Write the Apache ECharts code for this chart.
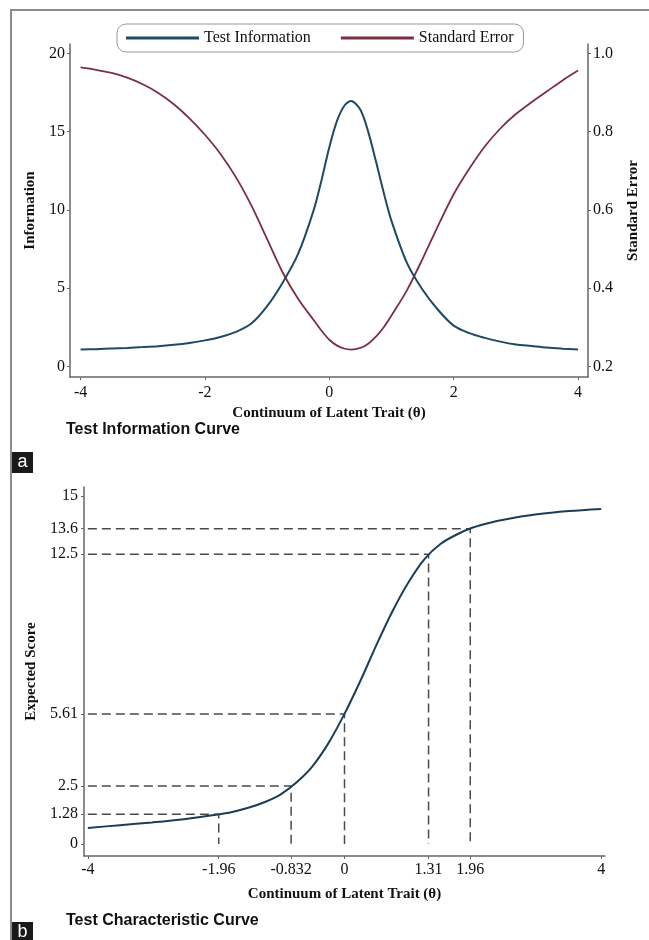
<!DOCTYPE html>
<html>
<head>
<meta charset="utf-8">
<script src="https://cdn.jsdelivr.net/npm/echarts@6/dist/echarts.min.js"></script>
<style>
  html, body { margin: 0; padding: 0; background: #fff; overflow: hidden; }
  #chart { width: 649px; height: 940px; position: absolute; left: 0; top: 0; }
  #frame { position: absolute; left: 10px; top: 9px; width: 637px; height: 929px;
           border-left: 2px solid #8c8c8c; border-top: 2px solid #8c8c8c; pointer-events: none; }
  .tag { position: absolute; left: 12px; width: 21px; height: 21px; background: #1a1a1a; color: #fff;
         font-family: "Liberation Sans", Arial, sans-serif; font-size: 18px; line-height: 19px; text-align: center; }
</style>
</head>
<body>
<div id="chart"></div>
<div id="frame"></div>
<div class="tag" style="top:452px;">a</div>
<div class="tag" style="top:922px;height:18px;">b</div>
<script>
// ---------- Panel a: Test Information Curve ----------
const theta = [-4, -3.75, -3.5, -3.25, -3, -2.75, -2.5, -2.25, -2, -1.75, -1.5, -1.25, -1, -0.75, -0.5, -0.25, -0.125, 0, 0.125, 0.25, 0.35, 0.5, 0.625, 0.75, 0.875, 1, 1.25, 1.5, 1.75, 2, 2.25, 2.5, 2.75, 3, 3.25, 3.5, 3.75, 4];
const information = [1.07, 1.1, 1.14, 1.18, 1.23, 1.29, 1.38, 1.5, 1.66, 1.88, 2.2, 2.75, 3.85, 5.35, 7.2, 10.0, 11.9, 14.0, 15.7, 16.7, 16.95, 16.4, 15.0, 13.1, 11.1, 9.3, 6.6, 4.9, 3.6, 2.6, 2.12, 1.82, 1.58, 1.4, 1.3, 1.2, 1.13, 1.07];
const standardError = [0.964, 0.958, 0.95, 0.938, 0.921, 0.899, 0.87, 0.834, 0.792, 0.743, 0.683, 0.61, 0.525, 0.44, 0.372, 0.318, 0.291, 0.268, 0.253, 0.245, 0.243, 0.247, 0.258, 0.276, 0.3, 0.33, 0.395, 0.475, 0.56, 0.64, 0.705, 0.762, 0.808, 0.845, 0.875, 0.903, 0.931, 0.956];
const topXTicks = [-4, -2, 0, 2, 4];
const infoTicks = [0, 5, 10, 15, 20];
const seTicks = [0.2, 0.4, 0.6, 0.8, 1.0];

// ---------- Panel b: Test Characteristic Curve ----------
const tccTheta = [-4, -3.5, -3, -2.5, -2, -1.75, -1.5, -1.25, -1, -0.75, -0.5, -0.25, 0, 0.25, 0.5, 0.75, 1, 1.25, 1.5, 1.75, 2, 2.25, 2.5, 3, 3.5, 4];
const tccScore = [0.69, 0.81, 0.93, 1.07, 1.26, 1.38, 1.56, 1.8, 2.13, 2.65, 3.35, 4.35, 5.61, 7.05, 8.6, 10.05, 11.3, 12.3, 12.95, 13.35, 13.65, 13.85, 14.0, 14.22, 14.36, 14.45];
const refTheta = [-1.96, -0.832, 0, 1.31, 1.96];
const refScore = [1.28, 2.5, 5.61, 12.5, 13.6];
const bottomXTicks = [-4, -1.96, -0.832, 0, 1.31, 1.96, 4];
const scoreTicks = [0, 1.28, 2.5, 5.61, 12.5, 13.6, 15];

const SERIF = '"Liberation Serif", "Times New Roman", serif';
const SANS = '"Liberation Sans", Arial, sans-serif';
const axisColor = '#666';
const labelStyle = { fontFamily: SERIF, fontSize: 16, color: '#111' };
const nameStyle = { fontFamily: SERIF, fontSize: 15, fontWeight: 'bold', color: '#111' };

function valueAxis(extra) {
  return Object.assign({
    type: 'value',
    splitLine: { show: false },
    axisLine: { show: true, onZero: false, lineStyle: { color: axisColor, width: 1.5 } },
    axisTick: { show: true, length: 3, lineStyle: { color: axisColor, width: 1 } },
    axisLabel: Object.assign({ margin: 5 }, labelStyle),
    nameTextStyle: nameStyle,
    nameLocation: 'middle'
  }, extra);
}

const refSeries = refTheta.map((t, i) => ({
  type: 'line',
  xAxisIndex: 1, yAxisIndex: 2,
  data: [[bottomXTicks[0], refScore[i]], [t, refScore[i]], [t, scoreTicks[0]]],
  symbol: 'none',
  silent: true,
  z: 1,
  lineStyle: { color: '#4a4a4a', width: 1.5, type: [9, 5] }
}));

const chart = echarts.init(document.getElementById('chart'), null, { renderer: 'canvas' });
chart.setOption({
  animation: false,
  backgroundColor: '#fff',
  title: [
    { text: 'Test Information Curve', left: 66, top: 422, padding: 0,
      textStyle: { fontFamily: SANS, fontSize: 16, fontWeight: 'bold', color: '#111' } },
    { text: 'Test Characteristic Curve', left: 66, top: 913, padding: 0,
      textStyle: { fontFamily: SANS, fontSize: 16, fontWeight: 'bold', color: '#111' } }
  ],
  legend: {
    left: 117, top: 24,
    padding: [6, 10, 6, 9],
    borderColor: '#9a9a9a', borderWidth: 1, borderRadius: 9,
    itemWidth: 73, itemHeight: 3, itemGap: 30, icon: 'rect',
    textStyle: { fontFamily: SERIF, fontSize: 16, color: '#111' },
    data: ['Test Information', 'Standard Error']
  },
  grid: [
    { left: 70, right: 55, top: 44, height: 333, containLabel: false },
    { left: 84, right: 44, top: 487, height: 369, containLabel: false }
  ],
  xAxis: [
    valueAxis({
      gridIndex: 0, min: -4.17, max: 4.16,
      name: 'Continuum of Latent Trait (θ)', nameGap: 29,
      axisTick: { show: true, length: 3, customValues: topXTicks, lineStyle: { color: axisColor } },
      axisLabel: Object.assign({ margin: 8, customValues: topXTicks }, labelStyle)
    }),
    valueAxis({
      gridIndex: 1, min: -4.06, max: 4.06,
      name: 'Continuum of Latent Trait (θ)', nameGap: 31,
      axisTick: { show: true, length: 3, customValues: bottomXTicks, lineStyle: { color: axisColor } },
      axisLabel: Object.assign({ margin: 6, customValues: bottomXTicks }, labelStyle)
    })
  ],
  yAxis: [
    valueAxis({
      gridIndex: 0, position: 'left', min: -0.68, max: 20.6,
      name: 'Information', nameGap: 26,
      axisTick: { show: true, length: 3, customValues: infoTicks, lineStyle: { color: axisColor } },
      axisLabel: Object.assign({ margin: 5, customValues: infoTicks }, labelStyle)
    }),
    valueAxis({
      gridIndex: 0, position: 'right', min: 0.1728, max: 1.024,
      name: 'Standard Error', nameGap: 38,
      axisTick: { show: true, length: 3, customValues: seTicks, lineStyle: { color: axisColor } },
      axisLabel: Object.assign({ margin: 5, customValues: seTicks, formatter: v => v.toFixed(1) }, labelStyle)
    }),
    valueAxis({
      gridIndex: 1, position: 'left', min: -0.52, max: 15.4,
      name: 'Expected Score', nameGap: 42,
      axisTick: { show: true, length: 3, customValues: scoreTicks, lineStyle: { color: axisColor } },
      axisLabel: Object.assign({ margin: 6, customValues: scoreTicks }, labelStyle)
    })
  ],
  series: [
    {
      name: 'Test Information', type: 'line', xAxisIndex: 0, yAxisIndex: 0,
      data: theta.map((t, i) => [t, information[i]]),
      smooth: 0.3, symbol: 'none', z: 3,
      itemStyle: { color: '#1e4a64' },
      lineStyle: { color: '#1e4a64', width: 2 }
    },
    {
      name: 'Standard Error', type: 'line', xAxisIndex: 0, yAxisIndex: 1,
      data: theta.map((t, i) => [t, standardError[i]]),
      smooth: 0.3, symbol: 'none', z: 2,
      itemStyle: { color: '#7b3040' },
      lineStyle: { color: '#7b3040', width: 1.8 }
    },
    {
      name: 'Expected Score', type: 'line', xAxisIndex: 1, yAxisIndex: 2,
      data: tccTheta.map((t, i) => [t, tccScore[i]]),
      smooth: 0.3, symbol: 'none', z: 3,
      lineStyle: { color: '#1c3d56', width: 2 }
    }
  ].concat(refSeries)
});
</script>
</body>
</html>
